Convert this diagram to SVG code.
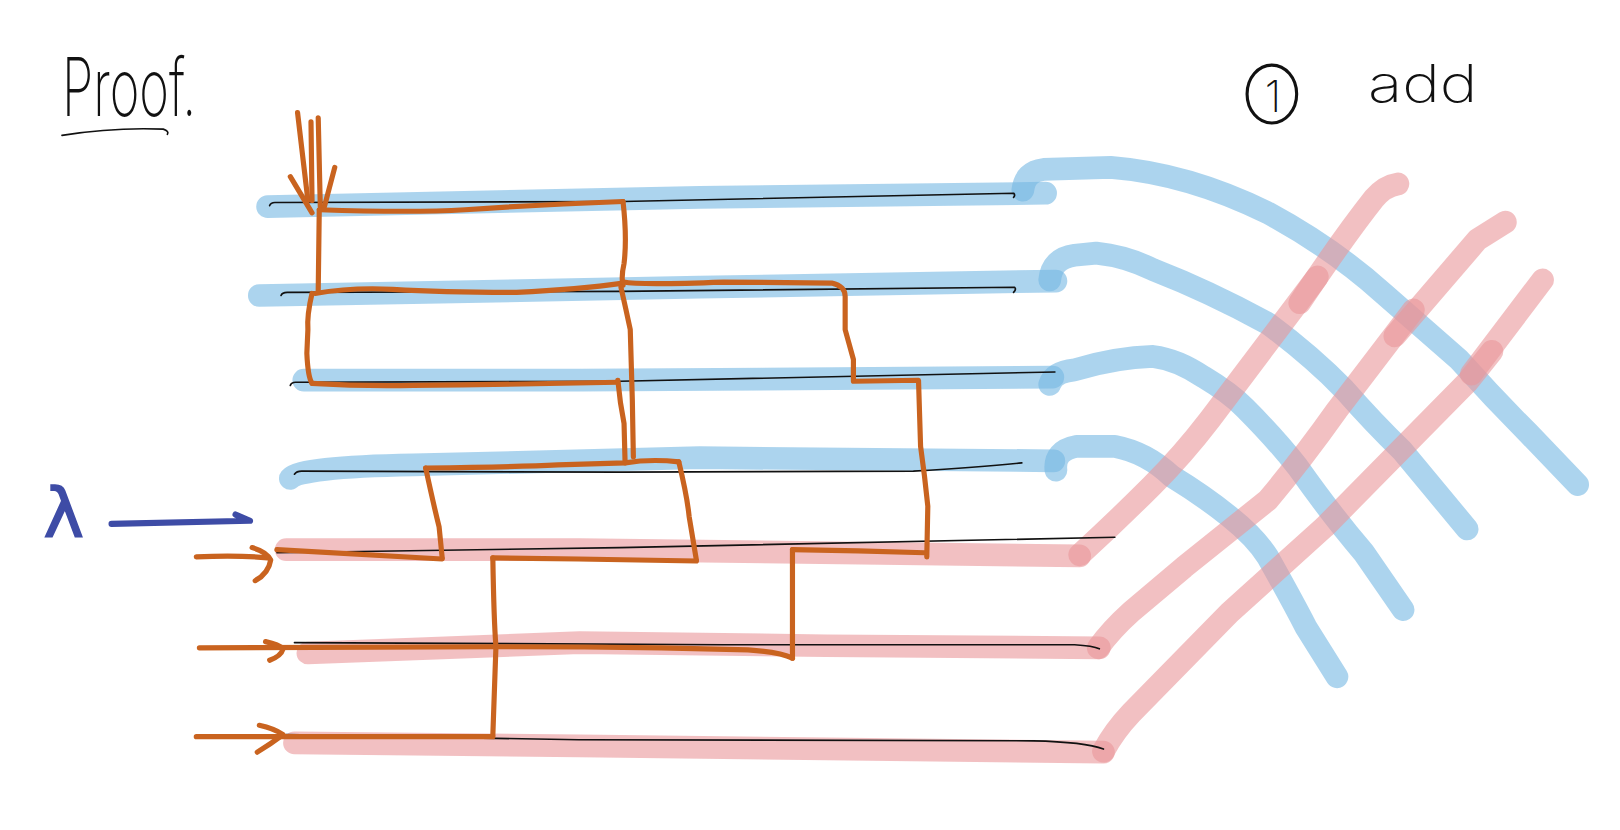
<svg xmlns="http://www.w3.org/2000/svg" width="1620" height="830" viewBox="0 0 1620 830">
<style>
.b{fill:none;stroke:rgb(117,183,227);stroke-opacity:.6;stroke-width:22;stroke-linecap:round;stroke-linejoin:round}
.p{fill:none;stroke:rgb(233,150,153);stroke-opacity:.6;stroke-width:22;stroke-linecap:round;stroke-linejoin:round}
.k{fill:none;stroke:#111;stroke-width:1.6;stroke-linecap:round;stroke-linejoin:round}
.o{fill:none;stroke:#C9631F;stroke-width:5;stroke-linecap:round;stroke-linejoin:round}
.hw{font-family:Inter,'Open Sans','DejaVu Sans',sans-serif;font-weight:200;fill:#111}
</style>
<rect width="1620" height="830" fill="#fff"/>
<g transform="scale(1.0332)">
<g id="title">
<text class="hw" x="60" y="112" font-size="78" textLength="130" lengthAdjust="spacingAndGlyphs">Proof.</text>
<path class="k" d="M60,131 Q110,123 158,125 Q164,127 162,130" stroke-width="2.8"/>
</g>
<g id="step-add">
<ellipse cx="1231" cy="91" rx="24" ry="28" fill="none" stroke="#111" stroke-width="3"/>
<text class="hw" x="1232" y="108" font-size="42" font-weight="400" text-anchor="middle">1</text>
<text class="hw" x="1324" y="99" font-size="50" textLength="106" lengthAdjust="spacingAndGlyphs">add</text>
</g>
<g id="lambda">
<text x="42" y="520" font-family="'DejaVu Sans',sans-serif" font-size="66" fill="#3E4CA6" stroke="#3E4CA6" stroke-width="1.5">λ</text>
<path d="M108,507 L242,504 L228,498" fill="none" stroke="#3E4CA6" stroke-width="6" stroke-linecap="round" stroke-linejoin="round"/>
</g>
<g id="wires-blue">
<path class="b" d="M259,200 L677,191 L1012,187"/>
<path class="b" d="M990,184 Q992,166 1010,164 L1075,162 Q1150,168 1227,206 Q1290,240 1339,284 Q1380,320 1412,348 Q1445,385 1479,419 L1527,469"/>
<path class="b" d="M251,286 L677,278 L1022,272"/>
<path class="b" d="M1016,271 Q1018,250 1040,247 L1061,245 Q1090,248 1116,261 Q1170,282 1227,313 Q1270,345 1301,377 Q1330,410 1357,436 L1420,512"/>
<path class="b" d="M294,368 L561,368 L1019,365"/>
<path class="b" d="M1016,372 Q1020,360 1040,358 Q1080,346 1116,345 Q1140,348 1165,365 Q1190,380 1205,395 Q1235,425 1256,452 Q1290,500 1320,535 L1358,590"/>
<path class="b" d="M281,463 Q290,452 400,450 L677,443 L1020,446"/>
<path class="b" d="M1022,455 Q1020,436 1042,432 L1079,432 Q1110,438 1134,461 Q1165,480 1190,500 Q1215,520 1227,539 Q1250,580 1264,607 L1294,655"/>
</g>
<g id="wires-pink">
<path class="p" d="M277,532 L561,532 L1045,538"/>
<path class="p" d="M1045,537 Q1080,505 1115,470 Q1145,440 1171,406 L1275,268"/>
<path class="p" d="M1258,293 Q1300,230 1330,192 Q1340,180 1353,178"/>
<path class="p" d="M298,632 L561,622 L800,625 L1064,627"/>
<path class="p" d="M1063,627 Q1075,610 1095,592 L1146,549 L1227,484 Q1260,445 1294,397 L1368,300"/>
<path class="p" d="M1350,325 L1430,232 L1457,215"/>
<path class="p" d="M285,719 L561,722 L1068,728"/>
<path class="p" d="M1068,727 Q1078,708 1095,690 L1190,593 L1282,510 L1420,370 L1444,340"/>
<path class="p" d="M1424,362 L1493,271"/>
</g>
<g id="strands">
<path class="k" d="M261,199 Q262,196 266,196 L603,195 L981,187 Q983,189 981,191"/>
<path class="k" d="M272,286 Q273,283 278,283 L600,282 L982,278 Q984,280 981,283"/>
<path class="k" d="M281,373 Q282,370 286,370 L600,369 L1021,360"/>
<path class="k" d="M285,459 Q287,456 292,456 L600,457 L884,456 Q950,452 989,448"/>
<path class="k" d="M268,535 L600,530 L1079,520"/>
<path class="k" d="M285,622 L700,624 L1040,624 Q1058,625 1064,628"/>
<path class="k" d="M277,711 L560,716 L1000,717 Q1050,718 1068,725"/>
</g>
<g id="connectors">
<path class="o" d="M288,109 L298,194"/>
<path class="o" d="M301,118 L302,194"/>
<path class="o" d="M308,114 L310,200"/>
<path class="o" d="M281,171 L302,206"/>
<path class="o" d="M324,162 L314,200"/>
<path class="o" d="M309,203 Q400,206 450,203 Q520,198 603,195"/>
<path class="o" d="M603,195 Q607,230 604,255 Q601,268 603,276"/>
<path class="o" d="M309,203 L308,281"/>
<path class="o" d="M305,284 Q340,278 380,280 Q430,283 500,283 Q560,280 603,274"/>
<path class="o" d="M603,273 Q620,276 700,273 L805,274 Q818,277 818,287 L818,319 L826,348 L826,368"/>
<path class="o" d="M826,369 L889,368 L891,432 Q895,460 898,490 L897,539"/>
<path class="o" d="M302,284 Q297,305 298,319 L297,342 Q298,365 302,371"/>
<path class="o" d="M302,371 Q350,374 400,373 Q500,372 598,370"/>
<path class="o" d="M598,368 Q600,390 604,410 L605,448"/>
<path class="o" d="M601,278 Q606,300 610,319 L612,387 L613,442"/>
<path class="o" d="M412,453 Q500,452 540,450 L605,448 Q630,444 657,447"/>
<path class="o" d="M657,447 Q665,480 667,500 L674,542"/>
<path class="o" d="M674,543 L560,541 L477,540"/>
<path class="o" d="M477,540 Q478,600 480,626 Q478,680 477,712"/>
<path class="o" d="M190,713 L477,713"/>
<path class="o" d="M412,453 Q420,490 425,510 L428,540"/>
<path class="o" d="M428,541 L268,532"/>
<path class="o" d="M190,539 Q230,537 259,540"/>
<path class="o" d="M244,530 Q258,534 262,542 Q260,555 247,562"/>
<path class="o" d="M193,627 L480,626 Q560,626 640,627 L724,629 Q755,631 767,637"/>
<path class="o" d="M767,637 L767,570 L767,532"/>
<path class="o" d="M767,532 Q830,533 895,535"/>
<path class="o" d="M257,621 Q270,624 274,628 Q272,635 261,639"/>
<path class="o" d="M251,702 Q265,705 274,711 Q262,720 249,728"/>
</g>
</g>
</svg>
